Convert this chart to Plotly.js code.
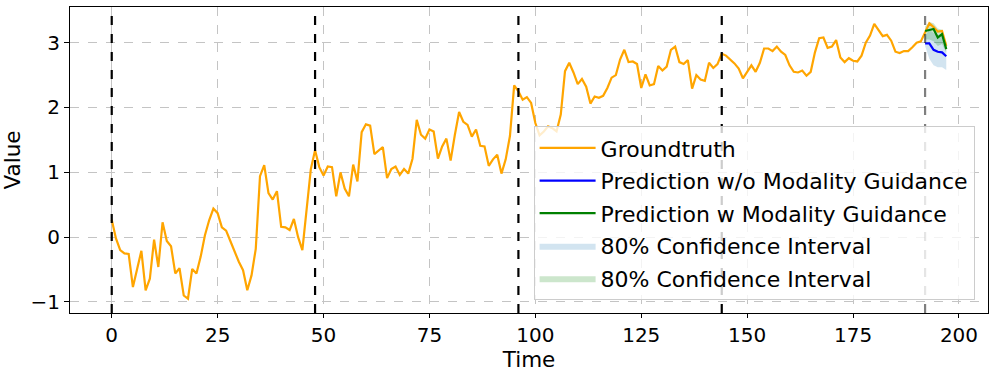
<!DOCTYPE html>
<html>
<head>
<meta charset="utf-8">
<script src="https://cdn.plot.ly/plotly-3.0.1.min.js"></script>
<style>
  html, body { margin: 0; padding: 0; background: #fff; }
  #plotArea { width: 997px; height: 373px; }
</style>
</head>
<body>
<div id="plotArea"></div>
<script>
// Groundtruth series, one value per time step (t = 0 .. 197)
var groundtruth = [
  0.27, -0.02, -0.20, -0.25, -0.26, -0.77, -0.49, -0.21, -0.82, -0.64,
  -0.04, -0.46, 0.23, -0.06, -0.14, -0.56, -0.48, -0.90, -0.95, -0.49,
  -0.56, -0.30, 0.03, 0.26, 0.44, 0.37, 0.15, 0.10, -0.06, -0.23,
  -0.38, -0.51, -0.82, -0.59, -0.18, 0.94, 1.11, 0.68, 0.58, 0.71,
  0.16, 0.15, 0.11, 0.28, 0.00, -0.20, 0.47, 1.05, 1.34, 1.08,
  0.95, 1.09, 1.08, 0.63, 1.00, 0.75, 0.63, 1.12, 0.86, 1.62,
  1.74, 1.72, 1.28, 1.33, 1.39, 0.91, 1.05, 1.09, 0.96, 1.05,
  0.98, 1.21, 1.81, 1.58, 1.52, 1.66, 1.63, 1.21, 1.40, 1.52,
  1.18, 1.58, 1.93, 1.78, 1.73, 1.55, 1.66, 1.41, 1.40, 1.10,
  1.20, 1.27, 0.98, 1.20, 1.56, 2.34, 2.25, 2.12, 2.16, 2.07,
  1.76, 1.57, 1.63, 1.71, 1.68, 1.63, 1.89, 2.56, 2.69, 2.54,
  2.36, 2.44, 2.32, 2.06, 2.17, 2.15, 2.18, 2.30, 2.46, 2.50,
  2.74, 2.89, 2.70, 2.71, 2.67, 2.30, 2.51, 2.34, 2.36, 2.64,
  2.57, 2.63, 2.89, 2.94, 2.70, 2.67, 2.73, 2.29, 2.50, 2.43,
  2.41, 2.69, 2.61, 2.67, 2.83, 2.80, 2.74, 2.68, 2.60, 2.45,
  2.55, 2.65, 2.55, 2.69, 2.91, 2.91, 2.87, 2.94, 2.86, 2.81,
  2.65, 2.55, 2.54, 2.57, 2.49, 2.55, 2.85, 3.07, 3.08, 2.92,
  2.94, 3.04, 2.77, 2.70, 2.76, 2.72, 2.71, 2.80, 3.00, 3.11,
  3.29, 3.20, 3.10, 3.12, 3.03, 2.86, 2.84, 2.87, 2.87, 2.93,
  3.00, 3.02, 3.15, 3.30, 3.24, 3.17, 3.18, 2.95
];
var timeSteps = groundtruth.map((v, i) => i);

// Forecast window
var predTime = [192, 193, 194, 195, 196, 197];
var predNoGuide = [2.99, 2.99, 2.89, 2.86, 2.85, 2.79];
var predGuide = [3.18, 3.19, 3.21, 3.08, 3.13, 2.90];
var ciNoGuideLow = [2.95, 2.75, 2.65, 2.62, 2.62, 2.58];
var ciNoGuideHigh = [3.10, 3.20, 3.15, 3.10, 3.10, 3.00];
var ciGuideLow = [3.05, 3.05, 3.02, 2.95, 2.98, 2.85];
var ciGuideHigh = [3.25, 3.32, 3.30, 3.22, 3.20, 3.00];

// Segment boundaries (dashed verticals)
var boundaries = [0, 48, 96, 144, 192];

var xTicks = [0, 25, 50, 75, 100, 125, 150, 175, 200];
var yTicks = [-1, 0, 1, 2, 3];

var blueFill = "rgba(31,119,180,0.2)";
var greenFill = "rgba(0,128,0,0.2)";

var ciBlueLow = {
  x: predTime, y: ciNoGuideLow, mode: "lines", line: {width: 0},
  showlegend: false, hoverinfo: "skip", legendgroup: "ci1"
};
var ciBlueHigh = {
  x: predTime, y: ciNoGuideHigh, mode: "lines", line: {width: 0},
  fill: "tonexty", fillcolor: blueFill,
  name: "80% Confidence Interval", legendgroup: "ci1", legendrank: 4
};
var ciGreenLow = {
  x: predTime, y: ciGuideLow, mode: "lines", line: {width: 0},
  showlegend: false, hoverinfo: "skip", legendgroup: "ci2"
};
var ciGreenHigh = {
  x: predTime, y: ciGuideHigh, mode: "lines", line: {width: 0},
  fill: "tonexty", fillcolor: greenFill,
  name: "80% Confidence Interval", legendgroup: "ci2", legendrank: 5
};

var gtTrace = {
  x: timeSteps, y: groundtruth, mode: "lines",
  line: {color: "orange", width: 2.2},
  name: "Groundtruth", legendgroup: "gt", legendrank: 1
};
var noGuideTrace = {
  x: predTime, y: predNoGuide, mode: "lines",
  line: {color: "blue", width: 2.2},
  name: "Prediction w/o Modality Guidance", legendgroup: "p1", legendrank: 2
};
var guideTrace = {
  x: predTime, y: predGuide, mode: "lines",
  line: {color: "green", width: 2.2},
  name: "Prediction w Modality Guidance", legendgroup: "p2", legendrank: 3
};

var data = [ciBlueLow, ciBlueHigh, ciGreenLow, ciGreenHigh, gtTrace, noGuideTrace, guideTrace];

// dashed verticals: black for the context windows, grey for the forecast start
var shapes = boundaries.map((b, i) => ({
  type: "line", xref: "x", yref: "paper", x0: b, x1: b, y0: 0, y1: 1,
  line: {color: i === boundaries.length - 1 ? "rgba(0,0,0,0.5)" : "black", width: 2.2, dash: "dash"},
  layer: "above"
}));

var layout = {
  width: 997,
  height: 373,
  margin: {l: 70, r: 9, t: 7, b: 60},
  paper_bgcolor: "white",
  plot_bgcolor: "white",
  font: {family: "DejaVu Sans", size: 20, color: "black"},
  showlegend: true,
  legend: {
    x: 0.505, y: 0.042, xanchor: "left", yanchor: "bottom",
    bgcolor: "rgba(255,255,255,0.8)", bordercolor: "#cccccc", borderwidth: 1,
    font: {family: "DejaVu Sans", size: 22, color: "black"},
    tracegroupgap: 1, itemwidth: 56
  },
  xaxis: {
    title: {text: "Time", font: {size: 21.5}, standoff: 0},
    range: [-9.85, 206.85],
    tickvals: xTicks,
    ticks: "outside", ticklen: 4, tickcolor: "black",
    showline: true, linecolor: "black", linewidth: 1, mirror: true,
    showgrid: true, gridcolor: "#c4c4c4", griddash: "dash", gridwidth: 1,
    zeroline: false
  },
  yaxis: {
    title: {text: "Value", font: {size: 21.5}, standoff: 6},
    range: [-1.17, 3.55],
    tickvals: yTicks,
    ticktext: yTicks.map(v => v < 0 ? "\u2212" + Math.abs(v) : String(v)),
    ticks: "outside", ticklen: 5, tickcolor: "black",
    showline: true, linecolor: "black", linewidth: 1, mirror: true,
    showgrid: true, gridcolor: "#c4c4c4", griddash: "dash", gridwidth: 1,
    zeroline: false
  },
  shapes: shapes
};

Plotly.newPlot("plotArea", data, layout, {displayModeBar: false, staticPlot: true});
</script>
</body>
</html>
